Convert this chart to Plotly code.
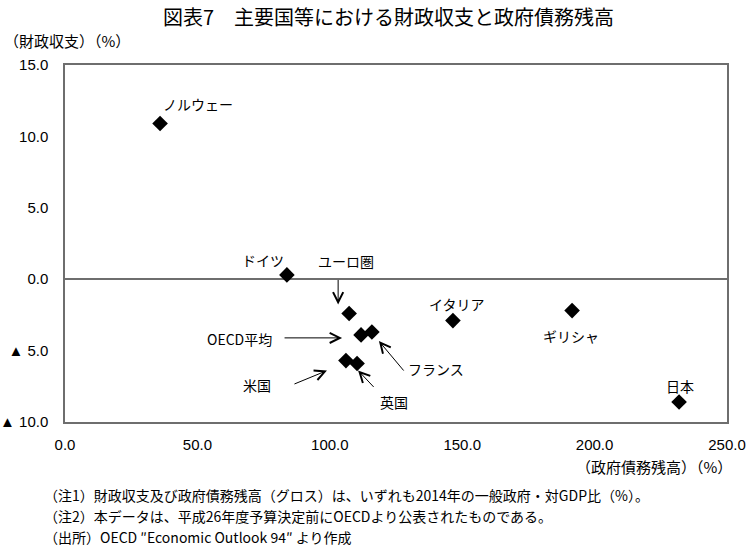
import plotly.graph_objects as go

# ---- data ----
countries = ["ノルウェー", "ドイツ", "ユーロ圏", "OECD平均", "フランス", "米国", "英国", "イタリア", "ギリシャ", "日本"]
debt = [35.9, 83.8, 107.3, 111.8, 115.9, 106.1, 110.3, 146.5, 191.5, 231.9]
balance = [10.9, 0.3, -2.4, -3.9, -3.7, -5.7, -5.9, -2.9, -2.2, -8.6]

y_tickvals = [15, 10, 5, 0, -5, -10]
y_ticktext = ["15.0", "10.0", "5.0", "0.0", "▲ 5.0", "▲ 10.0"]
x_tickvals = [0, 50, 100, 150, 200, 250]
x_ticktext = ["0.0", "50.0", "100.0", "150.0", "200.0", "250.0"]

title = "図表7　主要国等における財政収支と政府債務残高"
y_title = "（財政収支）（%）"
x_title = "（政府債務残高）（%）"
notes = [
    "（注1）財政収支及び政府債務残高（グロス）は、いずれも2014年の一般政府・対GDP比（%）。",
    "（注2）本データは、平成26年度予算決定前にOECDより公表されたものである。",
    "（出所）OECD ″Economic Outlook 94″ より作成",
]

# label offsets (pixels, x right, y up) relative to each point
label_offsets = {
    "ノルウェー": (38, 20), "ドイツ": (-24, 15), "ユーロ圏": (-3, 52),
    "OECD平均": (-122, -4), "フランス": (64, -37), "米国": (-89, -24),
    "英国": (37, -39), "イタリア": (4, 17), "ギリシャ": (-1, -25), "日本": (1, 16),
}
# arrows: head shift from point (x, y-up), tail offset from head (ax, ay-down)
arrows = {
    "ユーロ圏": (-11, 9, 0, -26),
    "OECD平均": (-19, -3, -59, 0),
    "フランス": (7, -9, 26, 31),
    "米国": (-19, -10, -34, 14),
    "英国": (1, -7, 17, 18),
}

W, H = 751, 549
L, R, T, B = 65, 24, 65, 127
JP = "Noto Sans CJK JP"
NUM = "Liberation Sans, Arial, sans-serif"


def px(xp, yp):
    return (xp - L) / (W - L - R), (H - B - yp) / (H - T - B)


fig = go.Figure()
fig.add_trace(go.Scatter(
    x=debt, y=balance, mode="markers",
    marker=dict(symbol="diamond", size=12, color="black", line=dict(width=0)),
    hoverinfo="skip", showlegend=False, cliponaxis=False,
))

ann = []
for name, xv, yv in zip(countries, debt, balance):
    dx, dy = label_offsets[name]
    ann.append(dict(x=xv, y=yv, xref="x", yref="y", text=name, showarrow=False,
                    xshift=dx, yshift=dy, font=dict(family=JP, size=14, color="black")))
    if name in arrows:
        hx, hy, ax, ay = arrows[name]
        ann.append(dict(x=xv, y=yv, xref="x", yref="y", text="", showarrow=True,
                        xshift=hx, yshift=hy, ax=ax, ay=ay, arrowhead=5,
                        arrowsize=2, arrowwidth=1, arrowcolor="black"))

# title and axis titles
tx, ty = px(388, 16)
ann.append(dict(x=tx, y=ty, xref="paper", yref="paper", text=title, showarrow=False,
                xanchor="center", yanchor="middle", font=dict(family=JP, size=20, color="black")))
tx, ty = px(2, 40)
ann.append(dict(x=tx, y=ty, xref="paper", yref="paper", text=y_title, showarrow=False,
                xanchor="left", yanchor="middle", font=dict(family=JP, size=15, color="black")))
tx, ty = px(734, 466)
ann.append(dict(x=tx, y=ty, xref="paper", yref="paper", text=x_title, showarrow=False,
                xanchor="right", yanchor="middle", font=dict(family=JP, size=15, color="black")))
for i, line in enumerate(notes):
    tx, ty = px(42, 495 + 21 * i)
    ann.append(dict(x=tx, y=ty, xref="paper", yref="paper", text=line, showarrow=False,
                    xanchor="left", yanchor="middle", font=dict(family=JP, size=14, color="black")))

axis_line = "#6e6e6e"
fig.update_layout(
    width=W, height=H,
    margin=dict(l=L, r=R, t=T, b=B, pad=0, autoexpand=False),
    paper_bgcolor="white", plot_bgcolor="white",
    annotations=ann,
    xaxis=dict(range=[0, 250], tickvals=x_tickvals, ticktext=x_ticktext, showgrid=False,
               zeroline=False, showline=True, mirror=True, linecolor=axis_line, linewidth=1.5,
               automargin=False,
               ticks="", ticklabelstandoff=8, tickfont=dict(family=NUM, size=15, color="black")),
    yaxis=dict(range=[-10, 15], tickvals=y_tickvals, ticktext=y_ticktext, showgrid=False,
               zeroline=True, zerolinecolor=axis_line, zerolinewidth=1.5,
               showline=True, mirror=True, linecolor=axis_line, linewidth=1.5,
               automargin=False,
               ticks="", ticklabelstandoff=12, tickfont=dict(family=NUM, size=15, color="black")),
)

fig.write_html("out.html")
